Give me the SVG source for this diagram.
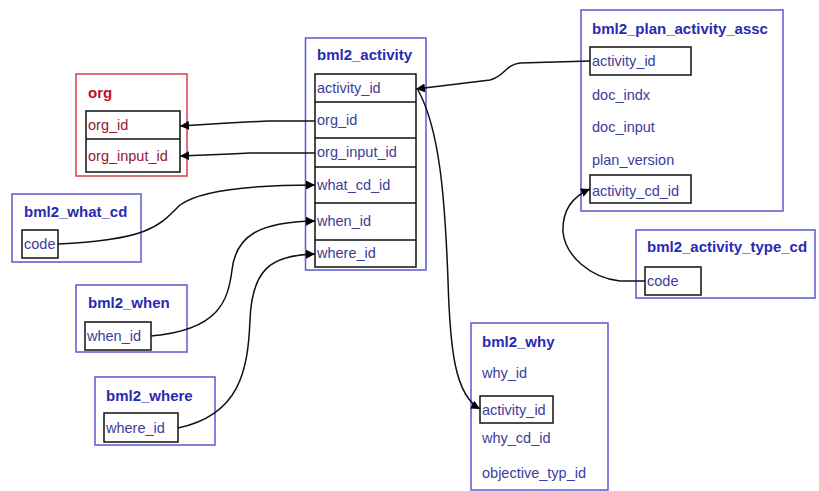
<svg xmlns="http://www.w3.org/2000/svg" width="819" height="491" viewBox="0 0 819 491">
<style>
.ob{fill:#fff;stroke:#5a5ad2;stroke-width:1.5}
.orb{fill:#fff;stroke:#d2404e;stroke-width:1.5}
.ib{fill:none;stroke:#111;stroke-width:1.5}
.t{font-family:"Liberation Sans",Arial,sans-serif;font-weight:bold;font-size:15px;fill:#2a2ab0}
.rt{font-family:"Liberation Sans",Arial,sans-serif;font-weight:bold;font-size:15px;fill:#c0101e}
.f{font-family:"Liberation Sans",Arial,sans-serif;font-size:14.5px;fill:#3c3c9c}
.rf{font-family:"Liberation Sans",Arial,sans-serif;font-size:14.5px;fill:#902030}
.c{fill:none;stroke:#111;stroke-width:1.5}
</style>
<defs>
<marker id="ah" viewBox="0 0 10 10" refX="10" refY="5" markerWidth="9" markerHeight="9" markerUnits="userSpaceOnUse" orient="auto">
<path d="M0,0 L10,5 L0,10 z" fill="#000"/>
</marker>
</defs>
<rect width="819" height="491" fill="#fff"/>

<g id="bml2_activity">
<rect class="ob" x="305.5" y="38" width="120.5" height="232"/>
<text class="t" x="317" y="60">bml2_activity</text>
<rect class="ib" x="315" y="74" width="101" height="193"/>
<path class="ib" d="M315,102H416M315,138H416M315,167H416M315,203H416M315,240H416"/>
<text class="f" x="317" y="93">activity_id</text>
<text class="f" x="317" y="125">org_id</text>
<text class="f" x="317" y="157">org_input_id</text>
<text class="f" x="317" y="190">what_cd_id</text>
<text class="f" x="317" y="226">when_id</text>
<text class="f" x="317" y="258">where_id</text>
</g>

<g id="org">
<rect class="orb" x="76" y="74" width="111" height="102"/>
<text class="rt" x="88" y="98">org</text>
<rect class="ib" x="86" y="111" width="94" height="61"/>
<path class="ib" d="M86,139H180"/>
<text class="rf" x="88" y="130">org_id</text>
<text class="rf" x="88" y="161">org_input_id</text>
</g>

<g id="bml2_what_cd">
<rect class="ob" x="12" y="194" width="129" height="68"/>
<text class="t" x="24" y="217">bml2_what_cd</text>
<rect class="ib" x="22" y="230" width="36" height="28"/>
<text class="f" x="24" y="249">code</text>
</g>

<g id="bml2_when">
<rect class="ob" x="76" y="285" width="111" height="67"/>
<text class="t" x="88" y="308">bml2_when</text>
<rect class="ib" x="85" y="322" width="66" height="28"/>
<text class="f" x="87" y="341">when_id</text>
</g>

<g id="bml2_where">
<rect class="ob" x="95" y="377" width="120" height="68"/>
<text class="t" x="106" y="401">bml2_where</text>
<rect class="ib" x="104" y="413" width="74" height="29"/>
<text class="f" x="106" y="433">where_id</text>
</g>

<g id="bml2_plan_activity_assc">
<rect class="ob" x="581" y="10" width="202" height="201"/>
<text class="t" x="592" y="34">bml2_plan_activity_assc</text>
<rect class="ib" x="590" y="47" width="101" height="28"/>
<text class="f" x="592" y="66">activity_id</text>
<text class="f" x="592" y="100">doc_indx</text>
<text class="f" x="592" y="132">doc_input</text>
<text class="f" x="592" y="165">plan_version</text>
<rect class="ib" x="590" y="175" width="101" height="28"/>
<text class="f" x="592" y="196">activity_cd_id</text>
</g>

<g id="bml2_activity_type_cd">
<rect class="ob" x="636" y="230" width="179" height="68"/>
<text class="t" x="647" y="252">bml2_activity_type_cd</text>
<rect class="ib" x="645" y="267" width="56" height="28"/>
<text class="f" x="647" y="286">code</text>
</g>

<g id="bml2_why">
<rect class="ob" x="471" y="323" width="137" height="167"/>
<text class="t" x="482" y="347">bml2_why</text>
<text class="f" x="482" y="378">why_id</text>
<rect class="ib" x="480" y="396" width="73" height="27"/>
<text class="f" x="482" y="415">activity_id</text>
<text class="f" x="482" y="443">why_cd_id</text>
<text class="f" x="482" y="478">objective_typ_id</text>
</g>

<g id="connectors">
<path class="c" d="M315,121 L268,121 L228,123 L180,126" marker-end="url(#ah)"/>
<path class="c" d="M315,153 L250,153 L230,154 L180,156" marker-end="url(#ah)"/>
<path class="c" d="M58,244 C150,240 160,225 180,205 C200,190 250,185 315,185" marker-end="url(#ah)"/>
<path class="c" d="M151,336 C220,330 228,300 232,270 C236,235 260,222 315,221" marker-end="url(#ah)"/>
<path class="c" d="M178,428 C240,415 248,370 250,320 C252,270 270,255 315,254" marker-end="url(#ah)"/>
<path class="c" d="M590,61 L520,63 C505,65 505,76 490,80 L416,89" marker-end="url(#ah)"/>
<path class="c" d="M418,90 C440,130 445,200 448,280 C450,350 455,395 480,409" marker-end="url(#ah)"/>
<path class="c" d="M645,281 L620,281 C590,278 565,255 563,232 C562,210 572,197 590,189" marker-end="url(#ah)"/>
</g>
</svg>
